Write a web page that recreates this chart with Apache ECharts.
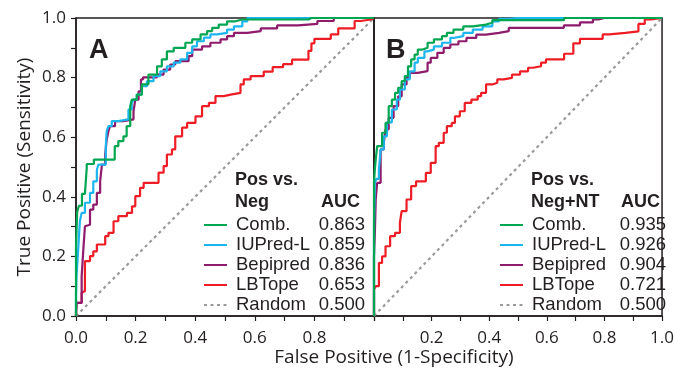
<!DOCTYPE html>
<html lang="en">
<head>
  <meta charset="UTF-8">
  <title>ROC</title>
  <script src="https://cdn.jsdelivr.net/npm/echarts@6/dist/echarts.min.js"></script>
  <style>
    html, body { margin: 0; padding: 0; background: #fff; }
  </style>
</head>
<body>
  <div id="chart" style="width: 677px; height: 372px;"></div>

  <script>
    // names + AUC values from the legends
    let methods = ['Comb.', 'IUPred-L', 'Bepipred', 'LBTope', 'Random']
    let aucA = ['0.863', '0.859', '0.836', '0.653', '0.500']
    let aucB = ['0.935', '0.926', '0.904', '0.721', '0.500']
    let colors = ['#00a651', '#1cb5ee', '#8e1b6c', '#ee1c25', '#9a9a9a']

    // panel A: Pos vs. Neg  [FPR, TPR]
    let combA = [[0, 0], [0.004, 0.23], [0.01, 0.35], [0.02, 0.37], [0.03, 0.41], [0.036, 0.41], [0.036, 0.497],
      [0.06, 0.51], [0.103, 0.525], [0.13, 0.525], [0.142, 0.57], [0.159, 0.587], [0.17, 0.603], [0.182, 0.637],
      [0.187, 0.704], [0.204, 0.726], [0.221, 0.743], [0.243, 0.777], [0.272, 0.81], [0.288, 0.838], [0.305, 0.861],
      [0.328, 0.888], [0.344, 0.9], [0.367, 0.9], [0.39, 0.917], [0.418, 0.928], [0.44, 0.945], [0.457, 0.956],
      [0.479, 0.967], [0.507, 0.978], [0.535, 0.989], [0.558, 0.995], [0.78, 0.995], [0.79, 1], [1, 1]]
    let iupredA = [[0, 0], [0.002, 0.066], [0.008, 0.139], [0.013, 0.234], [0.019, 0.318], [0.03, 0.346], [0.047, 0.38],
      [0.058, 0.413], [0.07, 0.452], [0.075, 0.49], [0.081, 0.508], [0.1, 0.508], [0.103, 0.57], [0.109, 0.62],
      [0.12, 0.637], [0.142, 0.654], [0.176, 0.66], [0.187, 0.693], [0.193, 0.715], [0.204, 0.726], [0.221, 0.743],
      [0.238, 0.771], [0.26, 0.788], [0.283, 0.805], [0.305, 0.821], [0.328, 0.838], [0.35, 0.85], [0.373, 0.861],
      [0.39, 0.883], [0.406, 0.905], [0.429, 0.922], [0.451, 0.934], [0.474, 0.945], [0.507, 0.95], [0.53, 0.961],
      [0.558, 0.972], [0.575, 0.989], [0.597, 1], [1, 1]]
    let bepiA = [[0, 0], [0.002, 0.012], [0.008, 0.044], [0.019, 0.044], [0.025, 0.134], [0.03, 0.229], [0.036, 0.301],
      [0.047, 0.306], [0.058, 0.357], [0.07, 0.374], [0.081, 0.413], [0.087, 0.452], [0.098, 0.508], [0.103, 0.542],
      [0.109, 0.592], [0.114, 0.62], [0.131, 0.637], [0.159, 0.654], [0.193, 0.66], [0.199, 0.687], [0.21, 0.726],
      [0.218, 0.754], [0.225, 0.794], [0.232, 0.801], [0.272, 0.801], [0.294, 0.81], [0.316, 0.827], [0.333, 0.844],
      [0.378, 0.855], [0.39, 0.872], [0.423, 0.894], [0.451, 0.905], [0.485, 0.917], [0.507, 0.928], [0.53, 0.939],
      [0.575, 0.95], [0.62, 0.956], [0.675, 0.965], [0.745, 0.975], [0.81, 0.98], [0.865, 0.99], [0.884, 1], [1, 1]]
    let lbtopeA = [[0, 0], [0.002, 0.006], [0.008, 0.044], [0.019, 0.044], [0.022, 0.078], [0.03, 0.084], [0.03, 0.173],
      [0.047, 0.184], [0.058, 0.201], [0.07, 0.217], [0.075, 0.24], [0.098, 0.24], [0.109, 0.268], [0.126, 0.279],
      [0.142, 0.318], [0.171, 0.335], [0.188, 0.346], [0.199, 0.368], [0.215, 0.402], [0.227, 0.43], [0.243, 0.447],
      [0.277, 0.447], [0.294, 0.481], [0.305, 0.503], [0.322, 0.542], [0.333, 0.559], [0.356, 0.603], [0.373, 0.632],
      [0.401, 0.648], [0.423, 0.67], [0.446, 0.704], [0.468, 0.715], [0.496, 0.738], [0.519, 0.743], [0.552, 0.749],
      [0.563, 0.777], [0.586, 0.794], [0.63, 0.805], [0.66, 0.82], [0.695, 0.835], [0.725, 0.845], [0.74, 0.86],
      [0.78, 0.86], [0.79, 0.89], [0.8, 0.915], [0.82, 0.93], [0.855, 0.93], [0.88, 0.945], [0.905, 0.965],
      [0.935, 0.965], [0.955, 0.99], [0.99, 0.995], [1, 1]]

    // panel B: Pos vs. Neg+NT
    let combB = [[0, 0], [0.003, 0.45], [0.006, 0.492], [0.011, 0.525], [0.028, 0.57], [0.04, 0.615], [0.051, 0.648],
      [0.062, 0.704], [0.073, 0.726], [0.084, 0.749], [0.096, 0.766], [0.107, 0.788], [0.118, 0.805], [0.129, 0.838],
      [0.141, 0.861], [0.152, 0.877], [0.169, 0.894], [0.186, 0.9], [0.208, 0.917], [0.236, 0.928], [0.253, 0.939],
      [0.276, 0.95], [0.31, 0.961], [0.343, 0.972], [0.389, 0.978], [0.411, 0.984], [0.434, 0.993], [0.66, 0.993],
      [0.68, 1], [1, 1]]
    let iupredB = [[0, 0], [0.003, 0.3], [0.008, 0.447], [0.017, 0.46], [0.023, 0.49], [0.034, 0.559], [0.045, 0.603],
      [0.062, 0.65], [0.079, 0.693], [0.09, 0.726], [0.107, 0.76], [0.124, 0.794], [0.141, 0.821], [0.152, 0.85],
      [0.175, 0.866], [0.186, 0.888], [0.208, 0.894], [0.236, 0.905], [0.265, 0.917], [0.276, 0.933], [0.31, 0.939],
      [0.343, 0.95], [0.377, 0.961], [0.411, 0.972], [0.434, 0.989], [0.468, 0.997], [0.5, 1], [1, 1]]
    let bepiB = [[0, 0], [0.003, 0.2], [0.006, 0.279], [0.011, 0.391], [0.023, 0.447], [0.034, 0.559], [0.04, 0.581],
      [0.051, 0.626], [0.068, 0.665], [0.084, 0.704], [0.096, 0.737], [0.113, 0.777], [0.124, 0.8], [0.152, 0.816],
      [0.186, 0.822], [0.197, 0.85], [0.22, 0.866], [0.242, 0.883], [0.265, 0.9], [0.293, 0.911], [0.321, 0.922],
      [0.355, 0.933], [0.389, 0.944], [0.434, 0.95], [0.468, 0.956], [0.501, 0.967], [0.659, 0.967], [0.715, 0.975],
      [0.76, 0.985], [0.78, 0.995], [0.8, 1], [1, 1]]
    let lbtopeB = [[0, 0], [0.006, 0.089], [0.017, 0.1], [0.028, 0.178], [0.04, 0.2], [0.056, 0.234], [0.073, 0.268],
      [0.09, 0.279], [0.096, 0.313], [0.113, 0.352], [0.129, 0.391], [0.146, 0.436], [0.163, 0.452], [0.18, 0.452],
      [0.197, 0.48], [0.214, 0.514], [0.225, 0.57], [0.242, 0.581], [0.253, 0.615], [0.27, 0.637], [0.281, 0.648],
      [0.298, 0.67], [0.315, 0.687], [0.338, 0.715], [0.36, 0.726], [0.372, 0.738], [0.389, 0.749], [0.411, 0.777],
      [0.428, 0.783], [0.45, 0.794], [0.479, 0.799], [0.507, 0.81], [0.535, 0.821], [0.552, 0.833], [0.58, 0.838],
      [0.597, 0.85], [0.608, 0.861], [0.66, 0.861], [0.692, 0.88], [0.715, 0.915], [0.76, 0.93], [0.794, 0.93],
      [0.817, 0.945], [0.873, 0.95], [0.918, 0.955], [0.94, 0.98], [0.963, 0.995], [1, 1]]
    let randomLine = [[0, 0], [1, 1]]

    let curvesA = [combA, iupredA, bepiA, lbtopeA, randomLine]
    let curvesB = [combB, iupredB, bepiB, lbtopeB, randomLine]

    let myChart = echarts.init(document.getElementById('chart'))

    const ink = '#231f20'
    const tickFont = 'Open Sans'
    const legendFont = 'Liberation Sans'

    function tickLabel(keep) {
      return function (v) {
        let k = Math.round(v * 10)
        return (k % 2 === 0 && keep(k)) ? (k / 10).toFixed(1) : ''
      }
    }

    function makeSeries(curves, idx) {
      return curves.map((pts, i) => {
        let isRandom = i === 4
        return {
          name: methods[i],
          type: 'line',
          xAxisIndex: idx,
          yAxisIndex: idx,
          data: pts,
          step: isRandom ? false : 'start',
          symbol: 'none',
          silent: true,
          animation: false,
          z: isRandom ? 1 : 10 - i,
          lineStyle: {
            color: colors[i],
            width: 2.2,
            type: isRandom ? [3, 3.5] : 'solid'
          },
          itemStyle: { color: colors[i] }
        }
      })
    }

    function makeLegend(left, top, auc, nameWidth) {
      return {
        orient: 'vertical',
        left: left,
        top: top,
        padding: 0,
        itemWidth: 23,
        itemHeight: 4,
        itemGap: 0,
        selectedMode: false,
        data: methods,
        // hide the symbol dot, keep only the line sample
        itemStyle: { opacity: 0 },
        formatter: name => `{n|${name}}{v|${auc[methods.indexOf(name)]}}`,
        textStyle: {
          color: ink,
          lineHeight: 20,
          rich: {
            n: { fontFamily: legendFont, fontSize: 18.5, color: ink, width: nameWidth, padding: [0, 0, 0, 4], lineHeight: 20 },
            v: { fontFamily: legendFont, fontSize: 18.5, color: ink, width: 50, align: 'right', lineHeight: 20 }
          }
        }
      }
    }

    function makeX(gridIndex, keep) {
      return {
        type: 'value', gridIndex: gridIndex, min: 0, max: 1, interval: 0.1,
        splitLine: { show: false },
        axisLine: { lineStyle: { color: ink, width: 1.5 } },
        axisTick: { length: 5, lineStyle: { color: ink, width: 1.2 } },
        axisLabel: {
          formatter: tickLabel(keep), color: ink, fontFamily: tickFont, fontSize: 17, margin: 14,
          showMinLabel: true, showMaxLabel: true
        }
      }
    }

    const bold = 'bold 18px "Liberation Sans"'

    let options = {
      animation: false,
      grid: [
        { left: 76, top: 18, width: 298, height: 298, show: true, borderColor: ink, borderWidth: 1.5 },
        { left: 374, top: 18, width: 297, height: 298, show: true, borderColor: ink, borderWidth: 1.5 }
      ],
      xAxis: [
        makeX(0, k => k < 10),
        makeX(1, k => k > 0)
      ],
      yAxis: [
        {
          type: 'value', gridIndex: 0, min: 0, max: 1, interval: 0.1,
          splitLine: { show: false },
          axisLine: { show: true, lineStyle: { color: ink, width: 1.5 } },
          axisTick: { show: true, length: 5, lineStyle: { color: ink, width: 1.2 } },
          axisLabel: {
            formatter: tickLabel(() => true), color: ink, fontFamily: tickFont, fontSize: 17, margin: 10,
            showMinLabel: true, showMaxLabel: true
          }
        },
        {
          type: 'value', gridIndex: 1, min: 0, max: 1, interval: 0.1,
          splitLine: { show: false },
          axisLine: { show: true, lineStyle: { color: ink, width: 1.5 } },
          axisTick: { show: false },
          axisLabel: { show: false }
        }
      ],
      legend: [
        makeLegend(203, 215, aucA, 79),
        makeLegend(499, 215, aucB, 84)
      ],
      graphic: [
        { type: 'text', x: 89, y: 51, style: { text: 'A', font: 'bold 27px "Liberation Sans"', fill: ink, verticalAlign: 'middle' } },
        { type: 'text', x: 386, y: 51, style: { text: 'B', font: 'bold 27px "Liberation Sans"', fill: ink, verticalAlign: 'middle' } },
        { type: 'text', x: 235, y: 180, style: { text: 'Pos vs.', font: bold, fill: ink, verticalAlign: 'middle' } },
        { type: 'text', x: 235, y: 202, style: { text: 'Neg', font: bold, fill: ink, verticalAlign: 'middle' } },
        { type: 'text', x: 360, y: 202, style: { text: 'AUC', font: bold, fill: ink, align: 'right', verticalAlign: 'middle' } },
        { type: 'text', x: 531, y: 180, style: { text: 'Pos vs.', font: bold, fill: ink, verticalAlign: 'middle' } },
        { type: 'text', x: 531, y: 202, style: { text: 'Neg+NT', font: bold, fill: ink, verticalAlign: 'middle' } },
        { type: 'text', x: 660, y: 202, style: { text: 'AUC', font: bold, fill: ink, align: 'right', verticalAlign: 'middle' } },
        { type: 'text', x: 25, y: 167, rotation: Math.PI / 2, style: { text: 'True Positive (Sensitivity)', font: '19px "Open Sans"', fill: ink, align: 'center', verticalAlign: 'middle' } },
        { type: 'text', x: 394, y: 358, style: { text: 'False Positive (1-Specificity)', font: '19px "Open Sans"', fill: ink, align: 'center', verticalAlign: 'middle' } }
      ],
      series: makeSeries(curvesA, 0).concat(makeSeries(curvesB, 1))
    }

    myChart.setOption(options)
  </script>
</body>
</html>
